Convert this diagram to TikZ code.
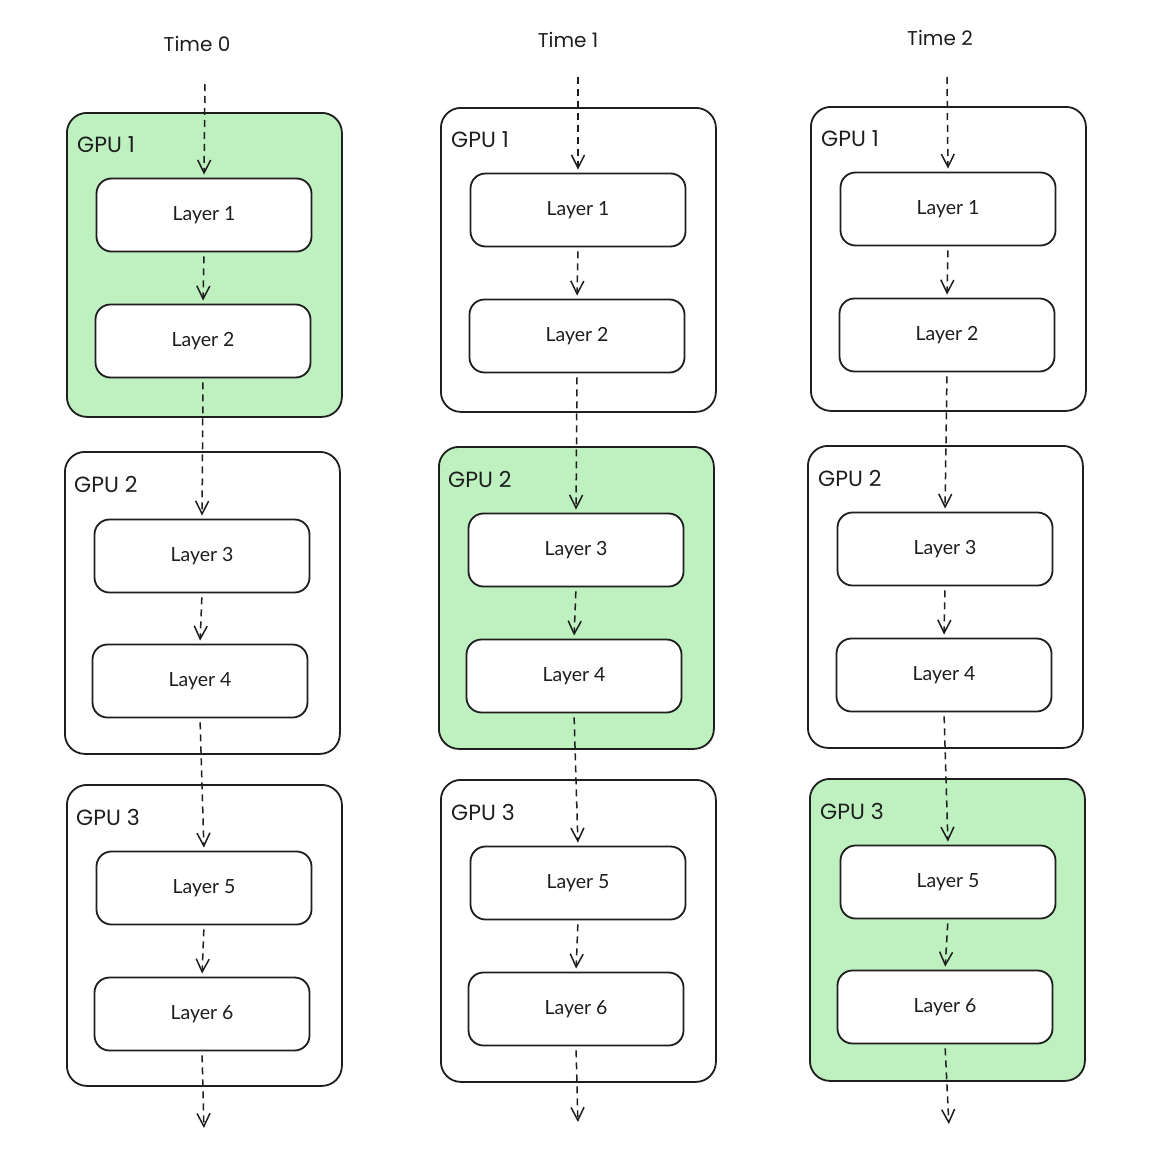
\documentclass[tikz,border=0pt]{standalone}
\usepackage{fontspec}
\setmainfont{Lato}
\newfontfamily\handfont{Poppins}
\usetikzlibrary{arrows.meta}
\definecolor{gpugreen}{RGB}{190,240,192}
\definecolor{ink}{RGB}{30,30,30}
\tikzset{
  gpubox/.style={draw=ink, line width=1.8pt, rounded corners=20pt, fill=white, anchor=north west, inner sep=0pt},
  active/.style={fill=gpugreen},
  layerbox/.style={draw=ink, line width=1.8pt, rounded corners=15pt, fill=white, minimum width=215pt, minimum height=73pt, inner sep=0pt, font=\fontsize{19.5}{22}\selectfont, text=ink},
  gpulabel/.style={anchor=west, inner sep=0pt, font=\handfont\fontsize{22}{24}\selectfont, text=ink},
  timelabel/.style={inner sep=0pt, font=\handfont\fontsize{20}{24}\selectfont, text=ink},
  flow/.style={draw=ink, line width=1.5pt, dash pattern=on 7pt off 5pt, -{Straight Barb[length=13pt,width=13pt,line width=1.5pt]}, shorten <=4pt, shorten >=3pt}
}
\begin{document}
\begin{tikzpicture}[x=1pt,y=-1pt]
\useasboundingbox (0,0) rectangle (1148,1156);
% ---------- Column Time 0 ----------
\node[timelabel] (t0) at (197,44) {Time 0};
\node[gpubox, active, minimum width=275pt, minimum height=304pt] (a1) at (66,112) {};
\node[gpubox, minimum width=275pt, minimum height=302pt] (a2) at (64,451) {};
\node[gpubox, minimum width=275pt, minimum height=301pt] (a3) at (66,784) {};
\node[gpulabel] (ag1) at (77,145) {GPU 1};
\node[gpulabel] (ag2) at (74,484) {GPU 2};
\node[gpulabel] (ag3) at (76,817) {GPU 3};
\node[layerbox] (al1) at (204,215) {\raisebox{-2pt}{Layer 1}};
\node[layerbox] (al2) at (203,341) {\raisebox{-2pt}{Layer 2}};
\node[layerbox] (al3) at (202,556) {\raisebox{-2pt}{Layer 3}};
\node[layerbox] (al4) at (200,681) {\raisebox{-2pt}{Layer 4}};
\node[layerbox] (al5) at (204,888) {\raisebox{-2pt}{Layer 5}};
\node[layerbox] (al6) at (202,1014) {\raisebox{-2pt}{Layer 6}};
\coordinate (as) at (205,80);
\coordinate (ae) at (204,1131);
% ---------- Column Time 1 ----------
\node[timelabel] (t1) at (568,40) {Time 1};
\node[gpubox, minimum width=275pt, minimum height=304pt] (b1) at (440,107) {};
\node[gpubox, active, minimum width=275pt, minimum height=302pt] (b2) at (438,446) {};
\node[gpubox, minimum width=275pt, minimum height=302pt] (b3) at (440,779) {};
\node[gpulabel] (bg1) at (451,140) {GPU 1};
\node[gpulabel] (bg2) at (448,479) {GPU 2};
\node[gpulabel] (bg3) at (451,812) {GPU 3};
\node[layerbox] (bl1) at (578,210) {\raisebox{-2pt}{Layer 1}};
\node[layerbox] (bl2) at (577,336) {\raisebox{-2pt}{Layer 2}};
\node[layerbox] (bl3) at (576,550) {\raisebox{-2pt}{Layer 3}};
\node[layerbox] (bl4) at (574,676) {\raisebox{-2pt}{Layer 4}};
\node[layerbox] (bl5) at (578,883) {\raisebox{-2pt}{Layer 5}};
\node[layerbox] (bl6) at (576,1009) {\raisebox{-2pt}{Layer 6}};
\coordinate (bs) at (578,73);
\coordinate (be) at (578,1125);
% ---------- Column Time 2 ----------
\node[timelabel] (t2) at (940,38) {Time 2};
\node[gpubox, minimum width=275pt, minimum height=304pt] (c1) at (810,106) {};
\node[gpubox, minimum width=275pt, minimum height=302pt] (c2) at (807,445) {};
\node[gpubox, active, minimum width=275pt, minimum height=302pt] (c3) at (809,778) {};
\node[gpulabel] (cg1) at (821,139) {GPU 1};
\node[gpulabel] (cg2) at (818,478) {GPU 2};
\node[gpulabel] (cg3) at (820,811) {GPU 3};
\node[layerbox] (cl1) at (948,209) {\raisebox{-2pt}{Layer 1}};
\node[layerbox] (cl2) at (947,335) {\raisebox{-2pt}{Layer 2}};
\node[layerbox] (cl3) at (945,549) {\raisebox{-2pt}{Layer 3}};
\node[layerbox] (cl4) at (944,675) {\raisebox{-2pt}{Layer 4}};
\node[layerbox] (cl5) at (948,882) {\raisebox{-2pt}{Layer 5}};
\node[layerbox] (cl6) at (945,1007) {\raisebox{-2pt}{Layer 6}};
\coordinate (cs) at (947,73);
\coordinate (ce) at (949,1127);
% ---------- Connectors ----------
\foreach \c in {a,b,c}{
  \draw[flow] (\c s) -- (\c l1.north);
  \draw[flow] (\c l1.south) -- (\c l2.north);
  \draw[flow] (\c l2.south) -- (\c l3.north);
  \draw[flow] (\c l3.south) -- (\c l4.north);
  \draw[flow] (\c l4.south) -- (\c l5.north);
  \draw[flow] (\c l5.south) -- (\c l6.north);
  \draw[flow] (\c l6.south) -- (\c e);
}
\end{tikzpicture}
\end{document}
